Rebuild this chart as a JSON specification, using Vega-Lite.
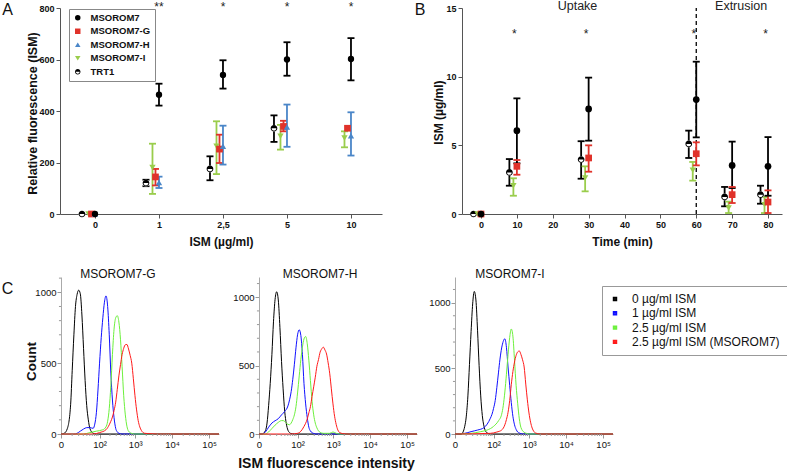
{
"$schema": "https://vega.github.io/schema/vega-lite/v6.json",
"width": 722, "height": 426,
"autosize": {"type": "none"},
"padding": {"left": 60, "top": 8, "right": 5, "bottom": 38},
"background": "white",
"config": {"view": {"stroke": null}, "font": "Liberation Sans",
  "axis": {"grid": false, "labelFont": "Liberation Sans", "titleFont": "Liberation Sans", "labelColor": "#111", "titleColor": "#111"},
  "legend": {"labelFont": "Liberation Sans"}, "text": {"font": "Liberation Sans"}},
"datasets": {
 "A": [
  {"dose":"0","series":"TRT1","mean":0,"lo":null,"hi":null},
  {"dose":"1","series":"TRT1","mean":120,"lo":108,"hi":133},
  {"dose":"2,5","series":"TRT1","mean":175,"lo":131,"hi":224},
  {"dose":"5","series":"TRT1","mean":333,"lo":280,"hi":383},
  {"dose":"0","series":"MSOROM7-I","mean":0,"lo":null,"hi":null},
  {"dose":"1","series":"MSOROM7-I","mean":181,"lo":78,"hi":273},
  {"dose":"2,5","series":"MSOROM7-I","mean":263,"lo":155,"hi":360},
  {"dose":"5","series":"MSOROM7-I","mean":302,"lo":250,"hi":346},
  {"dose":"10","series":"MSOROM7-I","mean":295,"lo":259,"hi":321},
  {"dose":"0","series":"MSOROM7-G","mean":0,"lo":null,"hi":null},
  {"dose":"1","series":"MSOROM7-G","mean":144,"lo":111,"hi":175},
  {"dose":"2,5","series":"MSOROM7-G","mean":252,"lo":198,"hi":308},
  {"dose":"5","series":"MSOROM7-G","mean":340,"lo":321,"hi":362},
  {"dose":"10","series":"MSOROM7-G","mean":333,"lo":null,"hi":null},
  {"dose":"0","series":"MSOROM7-H","mean":0,"lo":null,"hi":null},
  {"dose":"1","series":"MSOROM7-H","mean":122,"lo":101,"hi":145},
  {"dose":"2,5","series":"MSOROM7-H","mean":263,"lo":192,"hi":343},
  {"dose":"5","series":"MSOROM7-H","mean":338,"lo":261,"hi":425},
  {"dose":"10","series":"MSOROM7-H","mean":304,"lo":227,"hi":395},
  {"dose":"0","series":"MSOROM7","mean":0,"lo":null,"hi":null},
  {"dose":"1","series":"MSOROM7","mean":463,"lo":421,"hi":506},
  {"dose":"2,5","series":"MSOROM7","mean":540,"lo":487,"hi":597},
  {"dose":"5","series":"MSOROM7","mean":600,"lo":537,"hi":667},
  {"dose":"10","series":"MSOROM7","mean":602,"lo":519,"hi":683}
 ],
 "B": [
  {"t":0,"series":"TRT1","mean":0,"lo":null,"hi":null},
  {"t":10,"series":"TRT1","mean":3.03,"lo":2.06,"hi":4.0},
  {"t":30,"series":"TRT1","mean":3.96,"lo":2.57,"hi":5.3},
  {"t":60,"series":"TRT1","mean":5.1,"lo":4.08,"hi":6.07},
  {"t":70,"series":"TRT1","mean":1.24,"lo":0.56,"hi":1.97},
  {"t":80,"series":"TRT1","mean":1.41,"lo":0.75,"hi":2.06},
  {"t":0,"series":"MSOROM7-I","mean":0,"lo":null,"hi":null},
  {"t":10,"series":"MSOROM7-I","mean":2.05,"lo":1.33,"hi":2.6},
  {"t":30,"series":"MSOROM7-I","mean":2.62,"lo":1.65,"hi":3.47},
  {"t":60,"series":"MSOROM7-I","mean":3.18,"lo":2.43,"hi":3.79},
  {"t":70,"series":"MSOROM7-I","mean":0.44,"lo":0.07,"hi":0.9},
  {"t":80,"series":"MSOROM7-I","mean":0.68,"lo":0.07,"hi":1.24},
  {"t":0,"series":"MSOROM7-G","mean":0,"lo":null,"hi":null},
  {"t":10,"series":"MSOROM7-G","mean":3.47,"lo":2.86,"hi":3.93},
  {"t":30,"series":"MSOROM7-G","mean":4.08,"lo":3.08,"hi":5.0},
  {"t":60,"series":"MSOROM7-G","mean":4.39,"lo":3.54,"hi":5.22},
  {"t":70,"series":"MSOROM7-G","mean":1.41,"lo":0.8,"hi":1.97},
  {"t":80,"series":"MSOROM7-G","mean":0.87,"lo":0.07,"hi":1.72},
  {"t":0,"series":"MSOROM7","mean":0,"lo":null,"hi":null},
  {"t":10,"series":"MSOROM7","mean":6.07,"lo":3.69,"hi":8.42},
  {"t":30,"series":"MSOROM7","mean":7.65,"lo":5.34,"hi":9.93},
  {"t":60,"series":"MSOROM7","mean":8.33,"lo":5.58,"hi":11.09},
  {"t":70,"series":"MSOROM7","mean":3.54,"lo":1.89,"hi":5.27},
  {"t":80,"series":"MSOROM7","mean":3.47,"lo":1.33,"hi":5.6}
 ],
 "minorX": [{"v":10},{"v":20},{"v":30},{"v":40},{"v":50},{"v":60},{"v":70},{"v":80},{"v":90},{"v":200},{"v":300},{"v":400},{"v":500},{"v":600},{"v":700},{"v":800},{"v":900},{"v":2000},{"v":3000},{"v":4000},{"v":5000},{"v":6000},{"v":7000},{"v":8000},{"v":9000},{"v":20000},{"v":30000},{"v":40000},{"v":50000},{"v":60000},{"v":70000},{"v":80000},{"v":90000}],
 "minorY": [{"c":100},{"c":200},{"c":300},{"c":400},{"c":600},{"c":700},{"c":800},{"c":900},{"c":1100}],
 "CG": [
  {"s":"0 µg/ml ISM","i":0,"n":0},{"s":"0 µg/ml ISM","i":2.21,"n":5},{"s":"0 µg/ml ISM","i":4.92,"n":40},{"s":"0 µg/ml ISM","i":8.22,"n":210},{"s":"0 µg/ml ISM","i":10.1,"n":450},{"s":"0 µg/ml ISM","i":12.3,"n":700},{"s":"0 µg/ml ISM","i":14.6,"n":900},{"s":"0 µg/ml ISM","i":17.2,"n":985},{"s":"0 µg/ml ISM","i":20,"n":1015},{"s":"0 µg/ml ISM","i":23.2,"n":990},{"s":"0 µg/ml ISM","i":26.7,"n":840},{"s":"0 µg/ml ISM","i":30.6,"n":605},{"s":"0 µg/ml ISM","i":34.8,"n":377},{"s":"0 µg/ml ISM","i":39.5,"n":200},{"s":"0 µg/ml ISM","i":44.7,"n":100},{"s":"0 µg/ml ISM","i":50.5,"n":38},{"s":"0 µg/ml ISM","i":63.9,"n":5},{"s":"0 µg/ml ISM","i":80.3,"n":0},{"s":"0 µg/ml ISM","i":185000,"n":0},
  {"s":"1 µg/ml ISM","i":0,"n":0},{"s":"1 µg/ml ISM","i":12.3,"n":0},{"s":"1 µg/ml ISM","i":17.2,"n":5},{"s":"1 µg/ml ISM","i":23.2,"n":20},{"s":"1 µg/ml ISM","i":30.6,"n":35},{"s":"1 µg/ml ISM","i":39.5,"n":45},{"s":"1 µg/ml ISM","i":50.5,"n":45},{"s":"1 µg/ml ISM","i":63.9,"n":40},{"s":"1 µg/ml ISM","i":71.7,"n":70},{"s":"1 µg/ml ISM","i":80.3,"n":150},{"s":"1 µg/ml ISM","i":89.7,"n":310},{"s":"1 µg/ml ISM","i":100,"n":500},{"s":"1 µg/ml ISM","i":112,"n":680},{"s":"1 µg/ml ISM","i":125,"n":820},{"s":"1 µg/ml ISM","i":139,"n":930},{"s":"1 µg/ml ISM","i":154,"n":975},{"s":"1 µg/ml ISM","i":172,"n":900},{"s":"1 µg/ml ISM","i":191,"n":700},{"s":"1 µg/ml ISM","i":212,"n":430},{"s":"1 µg/ml ISM","i":235,"n":240},{"s":"1 µg/ml ISM","i":261,"n":115},{"s":"1 µg/ml ISM","i":290,"n":40},{"s":"1 µg/ml ISM","i":321,"n":15},{"s":"1 µg/ml ISM","i":356,"n":5},{"s":"1 µg/ml ISM","i":437,"n":0},{"s":"1 µg/ml ISM","i":185000,"n":0},
  {"s":"2.5 µg/ml ISM","i":0,"n":0},{"s":"2.5 µg/ml ISM","i":30.6,"n":0},{"s":"2.5 µg/ml ISM","i":50.5,"n":10},{"s":"2.5 µg/ml ISM","i":80.3,"n":20},{"s":"2.5 µg/ml ISM","i":125,"n":30},{"s":"2.5 µg/ml ISM","i":154,"n":50},{"s":"2.5 µg/ml ISM","i":172,"n":90},{"s":"2.5 µg/ml ISM","i":191,"n":180},{"s":"2.5 µg/ml ISM","i":212,"n":340},{"s":"2.5 µg/ml ISM","i":235,"n":560},{"s":"2.5 µg/ml ISM","i":261,"n":740},{"s":"2.5 µg/ml ISM","i":290,"n":820},{"s":"2.5 µg/ml ISM","i":321,"n":835},{"s":"2.5 µg/ml ISM","i":356,"n":790},{"s":"2.5 µg/ml ISM","i":395,"n":665},{"s":"2.5 µg/ml ISM","i":437,"n":475},{"s":"2.5 µg/ml ISM","i":484,"n":270},{"s":"2.5 µg/ml ISM","i":536,"n":135},{"s":"2.5 µg/ml ISM","i":593,"n":55},{"s":"2.5 µg/ml ISM","i":657,"n":20},{"s":"2.5 µg/ml ISM","i":805,"n":4},{"s":"2.5 µg/ml ISM","i":985,"n":0},{"s":"2.5 µg/ml ISM","i":185000,"n":0},
  {"s":"2.5 µg/ml ISM (MSOROM7)","i":0,"n":0},{"s":"2.5 µg/ml ISM (MSOROM7)","i":63.9,"n":0},{"s":"2.5 µg/ml ISM (MSOROM7)","i":100,"n":10},{"s":"2.5 µg/ml ISM (MSOROM7)","i":154,"n":30},{"s":"2.5 µg/ml ISM (MSOROM7)","i":191,"n":65},{"s":"2.5 µg/ml ISM (MSOROM7)","i":212,"n":90},{"s":"2.5 µg/ml ISM (MSOROM7)","i":235,"n":120},{"s":"2.5 µg/ml ISM (MSOROM7)","i":261,"n":165},{"s":"2.5 µg/ml ISM (MSOROM7)","i":290,"n":225},{"s":"2.5 µg/ml ISM (MSOROM7)","i":321,"n":315},{"s":"2.5 µg/ml ISM (MSOROM7)","i":356,"n":410},{"s":"2.5 µg/ml ISM (MSOROM7)","i":395,"n":490},{"s":"2.5 µg/ml ISM (MSOROM7)","i":437,"n":560},{"s":"2.5 µg/ml ISM (MSOROM7)","i":484,"n":605},{"s":"2.5 µg/ml ISM (MSOROM7)","i":536,"n":630},{"s":"2.5 µg/ml ISM (MSOROM7)","i":593,"n":632},{"s":"2.5 µg/ml ISM (MSOROM7)","i":657,"n":600},{"s":"2.5 µg/ml ISM (MSOROM7)","i":727,"n":555},{"s":"2.5 µg/ml ISM (MSOROM7)","i":805,"n":500},{"s":"2.5 µg/ml ISM (MSOROM7)","i":890,"n":390},{"s":"2.5 µg/ml ISM (MSOROM7)","i":985,"n":270},{"s":"2.5 µg/ml ISM (MSOROM7)","i":1090,"n":170},{"s":"2.5 µg/ml ISM (MSOROM7)","i":1205,"n":95},{"s":"2.5 µg/ml ISM (MSOROM7)","i":1333,"n":50},{"s":"2.5 µg/ml ISM (MSOROM7)","i":1474,"n":25},{"s":"2.5 µg/ml ISM (MSOROM7)","i":1803,"n":5},{"s":"2.5 µg/ml ISM (MSOROM7)","i":2694,"n":2},{"s":"2.5 µg/ml ISM (MSOROM7)","i":4024,"n":0},{"s":"2.5 µg/ml ISM (MSOROM7)","i":185000,"n":0}
 ],
 "CH": [
  {"s":"0 µg/ml ISM","i":0,"n":0},{"s":"0 µg/ml ISM","i":2.21,"n":0},{"s":"0 µg/ml ISM","i":4.92,"n":25},{"s":"0 µg/ml ISM","i":6.49,"n":80},{"s":"0 µg/ml ISM","i":8.22,"n":210},{"s":"0 µg/ml ISM","i":10.1,"n":370},{"s":"0 µg/ml ISM","i":12.3,"n":580},{"s":"0 µg/ml ISM","i":14.6,"n":820},{"s":"0 µg/ml ISM","i":17.2,"n":985},{"s":"0 µg/ml ISM","i":20,"n":1040},{"s":"0 µg/ml ISM","i":23.2,"n":980},{"s":"0 µg/ml ISM","i":26.7,"n":780},{"s":"0 µg/ml ISM","i":30.6,"n":530},{"s":"0 µg/ml ISM","i":34.8,"n":330},{"s":"0 µg/ml ISM","i":39.5,"n":165},{"s":"0 µg/ml ISM","i":44.7,"n":75},{"s":"0 µg/ml ISM","i":50.5,"n":28},{"s":"0 µg/ml ISM","i":56.9,"n":10},{"s":"0 µg/ml ISM","i":63.9,"n":3},{"s":"0 µg/ml ISM","i":80.3,"n":0},{"s":"0 µg/ml ISM","i":185000,"n":0},
  {"s":"1 µg/ml ISM","i":0,"n":0},{"s":"1 µg/ml ISM","i":2.21,"n":0},{"s":"1 µg/ml ISM","i":4.92,"n":15},{"s":"1 µg/ml ISM","i":8.22,"n":50},{"s":"1 µg/ml ISM","i":12.3,"n":80},{"s":"1 µg/ml ISM","i":17.2,"n":97},{"s":"1 µg/ml ISM","i":23.2,"n":112},{"s":"1 µg/ml ISM","i":30.6,"n":140},{"s":"1 µg/ml ISM","i":39.5,"n":165},{"s":"1 µg/ml ISM","i":50.5,"n":205},{"s":"1 µg/ml ISM","i":56.9,"n":250},{"s":"1 µg/ml ISM","i":63.9,"n":310},{"s":"1 µg/ml ISM","i":71.7,"n":400},{"s":"1 µg/ml ISM","i":80.3,"n":510},{"s":"1 µg/ml ISM","i":89.7,"n":630},{"s":"1 µg/ml ISM","i":100,"n":725},{"s":"1 µg/ml ISM","i":112,"n":762},{"s":"1 µg/ml ISM","i":125,"n":720},{"s":"1 µg/ml ISM","i":139,"n":580},{"s":"1 µg/ml ISM","i":154,"n":370},{"s":"1 µg/ml ISM","i":172,"n":220},{"s":"1 µg/ml ISM","i":191,"n":120},{"s":"1 µg/ml ISM","i":212,"n":50},{"s":"1 µg/ml ISM","i":235,"n":22},{"s":"1 µg/ml ISM","i":261,"n":10},{"s":"1 µg/ml ISM","i":290,"n":4},{"s":"1 µg/ml ISM","i":356,"n":0},{"s":"1 µg/ml ISM","i":185000,"n":0},
  {"s":"2.5 µg/ml ISM","i":0,"n":0},{"s":"2.5 µg/ml ISM","i":4.92,"n":0},{"s":"2.5 µg/ml ISM","i":8.22,"n":15},{"s":"2.5 µg/ml ISM","i":12.3,"n":40},{"s":"2.5 µg/ml ISM","i":17.2,"n":65},{"s":"2.5 µg/ml ISM","i":23.2,"n":85},{"s":"2.5 µg/ml ISM","i":30.6,"n":98},{"s":"2.5 µg/ml ISM","i":34.8,"n":98},{"s":"2.5 µg/ml ISM","i":39.5,"n":92},{"s":"2.5 µg/ml ISM","i":44.7,"n":80},{"s":"2.5 µg/ml ISM","i":50.5,"n":70},{"s":"2.5 µg/ml ISM","i":56.9,"n":68},{"s":"2.5 µg/ml ISM","i":63.9,"n":80},{"s":"2.5 µg/ml ISM","i":71.7,"n":105},{"s":"2.5 µg/ml ISM","i":80.3,"n":140},{"s":"2.5 µg/ml ISM","i":89.7,"n":200},{"s":"2.5 µg/ml ISM","i":100,"n":300},{"s":"2.5 µg/ml ISM","i":112,"n":425},{"s":"2.5 µg/ml ISM","i":125,"n":545},{"s":"2.5 µg/ml ISM","i":139,"n":635},{"s":"2.5 µg/ml ISM","i":154,"n":695},{"s":"2.5 µg/ml ISM","i":172,"n":713},{"s":"2.5 µg/ml ISM","i":191,"n":660},{"s":"2.5 µg/ml ISM","i":212,"n":540},{"s":"2.5 µg/ml ISM","i":235,"n":390},{"s":"2.5 µg/ml ISM","i":261,"n":240},{"s":"2.5 µg/ml ISM","i":290,"n":140},{"s":"2.5 µg/ml ISM","i":321,"n":80},{"s":"2.5 µg/ml ISM","i":356,"n":45},{"s":"2.5 µg/ml ISM","i":437,"n":12},{"s":"2.5 µg/ml ISM","i":536,"n":5},{"s":"2.5 µg/ml ISM","i":805,"n":5},{"s":"2.5 µg/ml ISM","i":985,"n":15},{"s":"2.5 µg/ml ISM","i":1205,"n":5},{"s":"2.5 µg/ml ISM","i":1474,"n":0},{"s":"2.5 µg/ml ISM","i":185000,"n":0},
  {"s":"2.5 µg/ml ISM (MSOROM7)","i":0,"n":0},{"s":"2.5 µg/ml ISM (MSOROM7)","i":63.9,"n":0},{"s":"2.5 µg/ml ISM (MSOROM7)","i":100,"n":5},{"s":"2.5 µg/ml ISM (MSOROM7)","i":125,"n":20},{"s":"2.5 µg/ml ISM (MSOROM7)","i":154,"n":55},{"s":"2.5 µg/ml ISM (MSOROM7)","i":191,"n":110},{"s":"2.5 µg/ml ISM (MSOROM7)","i":212,"n":155},{"s":"2.5 µg/ml ISM (MSOROM7)","i":235,"n":200},{"s":"2.5 µg/ml ISM (MSOROM7)","i":261,"n":275},{"s":"2.5 µg/ml ISM (MSOROM7)","i":290,"n":345},{"s":"2.5 µg/ml ISM (MSOROM7)","i":321,"n":415},{"s":"2.5 µg/ml ISM (MSOROM7)","i":356,"n":495},{"s":"2.5 µg/ml ISM (MSOROM7)","i":395,"n":545},{"s":"2.5 µg/ml ISM (MSOROM7)","i":437,"n":598},{"s":"2.5 µg/ml ISM (MSOROM7)","i":484,"n":622},{"s":"2.5 µg/ml ISM (MSOROM7)","i":536,"n":635},{"s":"2.5 µg/ml ISM (MSOROM7)","i":593,"n":615},{"s":"2.5 µg/ml ISM (MSOROM7)","i":657,"n":585},{"s":"2.5 µg/ml ISM (MSOROM7)","i":727,"n":520},{"s":"2.5 µg/ml ISM (MSOROM7)","i":805,"n":440},{"s":"2.5 µg/ml ISM (MSOROM7)","i":890,"n":330},{"s":"2.5 µg/ml ISM (MSOROM7)","i":985,"n":220},{"s":"2.5 µg/ml ISM (MSOROM7)","i":1090,"n":130},{"s":"2.5 µg/ml ISM (MSOROM7)","i":1205,"n":70},{"s":"2.5 µg/ml ISM (MSOROM7)","i":1333,"n":30},{"s":"2.5 µg/ml ISM (MSOROM7)","i":1474,"n":12},{"s":"2.5 µg/ml ISM (MSOROM7)","i":1803,"n":3},{"s":"2.5 µg/ml ISM (MSOROM7)","i":2694,"n":0},{"s":"2.5 µg/ml ISM (MSOROM7)","i":185000,"n":0}
 ],
 "CI": [
  {"s":"0 µg/ml ISM","i":0,"n":0},{"s":"0 µg/ml ISM","i":4.92,"n":0},{"s":"0 µg/ml ISM","i":6.49,"n":15},{"s":"0 µg/ml ISM","i":8.22,"n":55},{"s":"0 µg/ml ISM","i":10.1,"n":130},{"s":"0 µg/ml ISM","i":12.3,"n":290},{"s":"0 µg/ml ISM","i":14.6,"n":530},{"s":"0 µg/ml ISM","i":17.2,"n":780},{"s":"0 µg/ml ISM","i":20,"n":990},{"s":"0 µg/ml ISM","i":23.2,"n":1085},{"s":"0 µg/ml ISM","i":26.7,"n":1020},{"s":"0 µg/ml ISM","i":30.6,"n":790},{"s":"0 µg/ml ISM","i":34.8,"n":520},{"s":"0 µg/ml ISM","i":39.5,"n":290},{"s":"0 µg/ml ISM","i":44.7,"n":140},{"s":"0 µg/ml ISM","i":50.5,"n":60},{"s":"0 µg/ml ISM","i":56.9,"n":22},{"s":"0 µg/ml ISM","i":63.9,"n":8},{"s":"0 µg/ml ISM","i":80.3,"n":0},{"s":"0 µg/ml ISM","i":185000,"n":0},
  {"s":"1 µg/ml ISM","i":0,"n":0},{"s":"1 µg/ml ISM","i":8.22,"n":5},{"s":"1 µg/ml ISM","i":17.2,"n":18},{"s":"1 µg/ml ISM","i":30.6,"n":30},{"s":"1 µg/ml ISM","i":50.5,"n":48},{"s":"1 µg/ml ISM","i":63.9,"n":75},{"s":"1 µg/ml ISM","i":80.3,"n":120},{"s":"1 µg/ml ISM","i":89.7,"n":150},{"s":"1 µg/ml ISM","i":100,"n":195},{"s":"1 µg/ml ISM","i":112,"n":255},{"s":"1 µg/ml ISM","i":125,"n":355},{"s":"1 µg/ml ISM","i":139,"n":465},{"s":"1 µg/ml ISM","i":154,"n":570},{"s":"1 µg/ml ISM","i":172,"n":655},{"s":"1 µg/ml ISM","i":191,"n":705},{"s":"1 µg/ml ISM","i":212,"n":725},{"s":"1 µg/ml ISM","i":235,"n":660},{"s":"1 µg/ml ISM","i":261,"n":510},{"s":"1 µg/ml ISM","i":290,"n":370},{"s":"1 µg/ml ISM","i":321,"n":240},{"s":"1 µg/ml ISM","i":356,"n":135},{"s":"1 µg/ml ISM","i":395,"n":70},{"s":"1 µg/ml ISM","i":437,"n":35},{"s":"1 µg/ml ISM","i":484,"n":15},{"s":"1 µg/ml ISM","i":536,"n":8},{"s":"1 µg/ml ISM","i":657,"n":0},{"s":"1 µg/ml ISM","i":185000,"n":0},
  {"s":"2.5 µg/ml ISM","i":0,"n":0},{"s":"2.5 µg/ml ISM","i":17.2,"n":5},{"s":"2.5 µg/ml ISM","i":39.5,"n":18},{"s":"2.5 µg/ml ISM","i":63.9,"n":30},{"s":"2.5 µg/ml ISM","i":100,"n":58},{"s":"2.5 µg/ml ISM","i":139,"n":100},{"s":"2.5 µg/ml ISM","i":172,"n":150},{"s":"2.5 µg/ml ISM","i":191,"n":215},{"s":"2.5 µg/ml ISM","i":212,"n":320},{"s":"2.5 µg/ml ISM","i":235,"n":455},{"s":"2.5 µg/ml ISM","i":261,"n":605},{"s":"2.5 µg/ml ISM","i":290,"n":735},{"s":"2.5 µg/ml ISM","i":321,"n":799},{"s":"2.5 µg/ml ISM","i":356,"n":745},{"s":"2.5 µg/ml ISM","i":395,"n":560},{"s":"2.5 µg/ml ISM","i":437,"n":370},{"s":"2.5 µg/ml ISM","i":484,"n":230},{"s":"2.5 µg/ml ISM","i":536,"n":115},{"s":"2.5 µg/ml ISM","i":593,"n":50},{"s":"2.5 µg/ml ISM","i":727,"n":13},{"s":"2.5 µg/ml ISM","i":890,"n":3},{"s":"2.5 µg/ml ISM","i":985,"n":0},{"s":"2.5 µg/ml ISM","i":185000,"n":0},
  {"s":"2.5 µg/ml ISM (MSOROM7)","i":0,"n":0},{"s":"2.5 µg/ml ISM (MSOROM7)","i":80.3,"n":5},{"s":"2.5 µg/ml ISM (MSOROM7)","i":125,"n":15},{"s":"2.5 µg/ml ISM (MSOROM7)","i":172,"n":30},{"s":"2.5 µg/ml ISM (MSOROM7)","i":212,"n":70},{"s":"2.5 µg/ml ISM (MSOROM7)","i":235,"n":110},{"s":"2.5 µg/ml ISM (MSOROM7)","i":261,"n":165},{"s":"2.5 µg/ml ISM (MSOROM7)","i":290,"n":255},{"s":"2.5 µg/ml ISM (MSOROM7)","i":321,"n":375},{"s":"2.5 µg/ml ISM (MSOROM7)","i":356,"n":475},{"s":"2.5 µg/ml ISM (MSOROM7)","i":395,"n":548},{"s":"2.5 µg/ml ISM (MSOROM7)","i":437,"n":598},{"s":"2.5 µg/ml ISM (MSOROM7)","i":484,"n":625},{"s":"2.5 µg/ml ISM (MSOROM7)","i":536,"n":632},{"s":"2.5 µg/ml ISM (MSOROM7)","i":593,"n":606},{"s":"2.5 µg/ml ISM (MSOROM7)","i":657,"n":565},{"s":"2.5 µg/ml ISM (MSOROM7)","i":727,"n":510},{"s":"2.5 µg/ml ISM (MSOROM7)","i":805,"n":380},{"s":"2.5 µg/ml ISM (MSOROM7)","i":890,"n":260},{"s":"2.5 µg/ml ISM (MSOROM7)","i":985,"n":160},{"s":"2.5 µg/ml ISM (MSOROM7)","i":1090,"n":90},{"s":"2.5 µg/ml ISM (MSOROM7)","i":1205,"n":45},{"s":"2.5 µg/ml ISM (MSOROM7)","i":1333,"n":20},{"s":"2.5 µg/ml ISM (MSOROM7)","i":1474,"n":8},{"s":"2.5 µg/ml ISM (MSOROM7)","i":1993,"n":0},{"s":"2.5 µg/ml ISM (MSOROM7)","i":185000,"n":0}
 ]
},
"resolve": {"scale": {"x": "independent", "y": "independent", "color": "independent", "shape": "independent"}},
"layer": [
 {
  "data": {"name": "A"},
  "encoding": {"x": {"field": "dose", "type": "ordinal", "scale": {"type": "point", "domain": ["0","1","2,5","5","10"], "range": [0, 322], "padding": 0.5156, "align": 0.53},
    "axis": {"orient": "bottom", "offset": -220, "title": "ISM (µg/ml)", "labelAngle": 0, "labelFontWeight": "bold", "labelFontSize": 9, "titleFontSize": 12, "titleFontWeight": "bold", "domainColor": "#555", "tickColor": "#555", "tickSize": 4, "labelPadding": 2, "titleY": 27, "titleBaseline": "middle"}}},
  "layer": [
   {"transform": [{"filter": "datum.series === 'TRT1'"}], "mark": {"type": "rule", "strokeWidth": 1.8, "xOffset": -13},
    "encoding": {"y": {"field": "lo", "type": "quantitative", "scale": {"domain": [0, 800], "range": [206, 0], "nice": false, "zero": false},
       "axis": {"orient": "left", "values": [0,200,400,600,800], "title": "Relative fluorescence (ISM)", "labelFontWeight": "bold", "labelFontSize": 9, "titleFontSize": 12.5, "titleFontWeight": "bold", "domainColor": "#555", "tickColor": "#555", "tickSize": 4, "labelPadding": 2, "titleX": -28, "titleY": 105, "titleBaseline": "middle"}},
     "y2": {"field": "hi"},
     "color": {"field": "series", "type": "nominal", "scale": {"domain": ["MSOROM7","MSOROM7-G","MSOROM7-H","MSOROM7-I","TRT1"], "range": ["#000000","#e0322a","#4a86c8","#9acd4c","#000000"]}}}},
   {"transform": [{"filter": "datum.series === 'TRT1'"}], "mark": {"type": "tick", "orient": "horizontal", "thickness": 1.8, "size": 7, "opacity": 1, "xOffset": -13},
    "encoding": {"y": {"field": "lo", "type": "quantitative"}, "color": {"field": "series", "type": "nominal"}}},
   {"transform": [{"filter": "datum.series === 'TRT1'"}], "mark": {"type": "tick", "orient": "horizontal", "thickness": 1.8, "size": 7, "opacity": 1, "xOffset": -13},
    "encoding": {"y": {"field": "hi", "type": "quantitative"}, "color": {"field": "series", "type": "nominal"}}},
   {"transform": [{"filter": "datum.series === 'MSOROM7-I'"}], "mark": {"type": "rule", "strokeWidth": 1.8, "xOffset": -6.5},
    "encoding": {"y": {"field": "lo", "type": "quantitative"}, "y2": {"field": "hi"}, "color": {"field": "series", "type": "nominal"}}},
   {"transform": [{"filter": "datum.series === 'MSOROM7-I'"}], "mark": {"type": "tick", "orient": "horizontal", "thickness": 1.8, "size": 7, "opacity": 1, "xOffset": -6.5},
    "encoding": {"y": {"field": "lo", "type": "quantitative"}, "color": {"field": "series", "type": "nominal"}}},
   {"transform": [{"filter": "datum.series === 'MSOROM7-I'"}], "mark": {"type": "tick", "orient": "horizontal", "thickness": 1.8, "size": 7, "opacity": 1, "xOffset": -6.5},
    "encoding": {"y": {"field": "hi", "type": "quantitative"}, "color": {"field": "series", "type": "nominal"}}},
   {"transform": [{"filter": "datum.series === 'MSOROM7-G'"}], "mark": {"type": "rule", "strokeWidth": 1.8, "xOffset": -3.5},
    "encoding": {"y": {"field": "lo", "type": "quantitative"}, "y2": {"field": "hi"}, "color": {"field": "series", "type": "nominal"}}},
   {"transform": [{"filter": "datum.series === 'MSOROM7-G'"}], "mark": {"type": "tick", "orient": "horizontal", "thickness": 1.8, "size": 7, "opacity": 1, "xOffset": -3.5},
    "encoding": {"y": {"field": "lo", "type": "quantitative"}, "color": {"field": "series", "type": "nominal"}}},
   {"transform": [{"filter": "datum.series === 'MSOROM7-G'"}], "mark": {"type": "tick", "orient": "horizontal", "thickness": 1.8, "size": 7, "opacity": 1, "xOffset": -3.5},
    "encoding": {"y": {"field": "hi", "type": "quantitative"}, "color": {"field": "series", "type": "nominal"}}},
   {"transform": [{"filter": "datum.series === 'MSOROM7-H' || datum.series === 'MSOROM7'"}], "mark": {"type": "rule", "strokeWidth": 1.8},
    "encoding": {"y": {"field": "lo", "type": "quantitative"}, "y2": {"field": "hi"}, "color": {"field": "series", "type": "nominal"}}},
   {"transform": [{"filter": "datum.series === 'MSOROM7-H' || datum.series === 'MSOROM7'"}], "mark": {"type": "tick", "orient": "horizontal", "thickness": 1.8, "size": 7, "opacity": 1},
    "encoding": {"y": {"field": "lo", "type": "quantitative"}, "color": {"field": "series", "type": "nominal"}}},
   {"transform": [{"filter": "datum.series === 'MSOROM7-H' || datum.series === 'MSOROM7'"}], "mark": {"type": "tick", "orient": "horizontal", "thickness": 1.8, "size": 7, "opacity": 1},
    "encoding": {"y": {"field": "hi", "type": "quantitative"}, "color": {"field": "series", "type": "nominal"}}},
   {"transform": [{"filter": "datum.series === 'TRT1'"}], "mark": {"type": "point", "filled": true, "shape": "circle", "size": 45, "opacity": 1, "color": "white", "xOffset": -13},
    "encoding": {"y": {"field": "mean", "type": "quantitative"}}},
   {"transform": [{"filter": "datum.series === 'TRT1'"}], "mark": {"type": "point", "filled": true, "size": 45, "opacity": 1, "xOffset": -13},
    "encoding": {"y": {"field": "mean", "type": "quantitative"},
     "color": {"field": "series", "type": "nominal", "legend": {"title": null, "orient": "none", "legendX": 9, "legendY": 1, "strokeColor": "#888", "padding": 4, "rowPadding": 2.5, "labelFontWeight": "bold", "labelFontSize": 9.5, "labelColor": "#111", "symbolSize": 30, "symbolType": "circle", "labelOffset": 8, "symbolStrokeWidth": 0}},
     "shape": {"field": "series", "type": "nominal", "scale": {"domain": ["MSOROM7","MSOROM7-G","MSOROM7-H","MSOROM7-I","TRT1"], "range": ["circle","square","triangle-up","triangle-down","M-1,0A1,1,0,0,1,1,0Z M1,0A1,1,0,0,1,-1,0L-0.7,0A0.7,0.7,0,0,0,0.7,0Z"]}, "legend": {"title": null, "orient": "none", "legendX": 9, "legendY": 1, "strokeColor": "#888", "padding": 4, "rowPadding": 2.5, "labelFontWeight": "bold", "labelFontSize": 9.5, "labelColor": "#111", "symbolSize": 30, "labelOffset": 8, "symbolStrokeWidth": 0}}}},
   {"transform": [{"filter": "datum.series === 'MSOROM7-I'"}], "mark": {"type": "point", "filled": true, "size": 40, "opacity": 1, "xOffset": -6.5},
    "encoding": {"y": {"field": "mean", "type": "quantitative"}, "color": {"field": "series", "type": "nominal"}, "shape": {"field": "series", "type": "nominal"}}},
   {"transform": [{"filter": "datum.series === 'MSOROM7-G'"}], "mark": {"type": "point", "filled": true, "size": 45, "opacity": 1, "xOffset": -3.5},
    "encoding": {"y": {"field": "mean", "type": "quantitative"}, "color": {"field": "series", "type": "nominal"}, "shape": {"field": "series", "type": "nominal"}}},
   {"transform": [{"filter": "datum.series === 'MSOROM7-H' || datum.series === 'MSOROM7'"}], "mark": {"type": "point", "filled": true, "size": 40, "opacity": 1},
    "encoding": {"y": {"field": "mean", "type": "quantitative"}, "color": {"field": "series", "type": "nominal"}, "shape": {"field": "series", "type": "nominal"}}},
   {"data": {"values": [{"dose": "1", "sig": "**"}, {"dose": "2,5", "sig": "*"}, {"dose": "5", "sig": "*"}, {"dose": "10", "sig": "*"}]},
    "mark": {"type": "text", "fontSize": 12, "baseline": "alphabetic", "color": "#222"},
    "encoding": {"y": {"datum": 789, "type": "quantitative"}, "text": {"field": "sig"}}}
  ]
 },
 {
  "data": {"name": "B"},
  "layer": [
   {"transform": [{"filter": "datum.series === 'TRT1'"}], "mark": {"type": "rule", "strokeWidth": 1.8, "xOffset": -7.5},
    "encoding": {
     "x": {"field": "t", "type": "quantitative", "scale": {"domain": [-5.3, 83.9], "range": [402, 722], "nice": false, "zero": false},
       "axis": {"orient": "bottom", "offset": -220, "values": [0,10,20,30,40,50,60,70,80], "title": "Time (min)", "labelFontWeight": "bold", "labelFontSize": 9, "titleFontSize": 12, "titleFontWeight": "bold", "domainColor": "#555", "tickColor": "#555", "tickSize": 4, "labelPadding": 2, "titleY": 27, "titleBaseline": "middle"}},
     "y": {"field": "lo", "type": "quantitative", "scale": {"domain": [0, 15], "range": [206, 0], "nice": false, "zero": false},
       "axis": {"orient": "left", "offset": -402, "values": [0,5,10,15], "title": "ISM (µg/ml)", "labelFontWeight": "bold", "labelFontSize": 9, "titleFontSize": 12, "titleFontWeight": "bold", "domainColor": "#555", "tickColor": "#555", "tickSize": 4, "labelPadding": 2, "titleX": -24, "titleY": 104, "titleBaseline": "middle"}},
     "y2": {"field": "hi"},
     "color": {"field": "series", "type": "nominal", "scale": {"domain": ["MSOROM7","MSOROM7-G","MSOROM7-I","TRT1"], "range": ["#000000","#e0322a","#9acd4c","#000000"]}, "legend": null}}},
   {"data": {"values": [{}]}, "mark": {"type": "rule", "strokeDash": [4, 3], "strokeWidth": 1.3, "color": "#000"},
    "encoding": {"x": {"datum": 60, "type": "quantitative"}, "y": {"datum": 0, "type": "quantitative"}, "y2": {"datum": 15}}},
   {"transform": [{"filter": "datum.series === 'TRT1'"}], "mark": {"type": "tick", "orient": "horizontal", "thickness": 1.8, "size": 7, "opacity": 1, "xOffset": -7.5},
    "encoding": {"x": {"field": "t", "type": "quantitative"}, "y": {"field": "lo", "type": "quantitative"}, "color": {"field": "series", "type": "nominal", "legend": null}}},
   {"transform": [{"filter": "datum.series === 'TRT1'"}], "mark": {"type": "tick", "orient": "horizontal", "thickness": 1.8, "size": 7, "opacity": 1, "xOffset": -7.5},
    "encoding": {"x": {"field": "t", "type": "quantitative"}, "y": {"field": "hi", "type": "quantitative"}, "color": {"field": "series", "type": "nominal", "legend": null}}},
   {"transform": [{"filter": "datum.series === 'MSOROM7-I'"}], "mark": {"type": "rule", "strokeWidth": 1.8, "xOffset": -3.5},
    "encoding": {"x": {"field": "t", "type": "quantitative"}, "y": {"field": "lo", "type": "quantitative"}, "y2": {"field": "hi"}, "color": {"field": "series", "type": "nominal", "legend": null}}},
   {"transform": [{"filter": "datum.series === 'MSOROM7-I'"}], "mark": {"type": "tick", "orient": "horizontal", "thickness": 1.8, "size": 7, "opacity": 1, "xOffset": -3.5},
    "encoding": {"x": {"field": "t", "type": "quantitative"}, "y": {"field": "lo", "type": "quantitative"}, "color": {"field": "series", "type": "nominal", "legend": null}}},
   {"transform": [{"filter": "datum.series === 'MSOROM7-I'"}], "mark": {"type": "tick", "orient": "horizontal", "thickness": 1.8, "size": 7, "opacity": 1, "xOffset": -3.5},
    "encoding": {"x": {"field": "t", "type": "quantitative"}, "y": {"field": "hi", "type": "quantitative"}, "color": {"field": "series", "type": "nominal", "legend": null}}},
   {"transform": [{"filter": "datum.series === 'MSOROM7-G' || datum.series === 'MSOROM7'"}], "mark": {"type": "rule", "strokeWidth": 1.8},
    "encoding": {"x": {"field": "t", "type": "quantitative"}, "y": {"field": "lo", "type": "quantitative"}, "y2": {"field": "hi"}, "color": {"field": "series", "type": "nominal", "legend": null}}},
   {"transform": [{"filter": "datum.series === 'MSOROM7-G' || datum.series === 'MSOROM7'"}], "mark": {"type": "tick", "orient": "horizontal", "thickness": 1.8, "size": 7, "opacity": 1},
    "encoding": {"x": {"field": "t", "type": "quantitative"}, "y": {"field": "lo", "type": "quantitative"}, "color": {"field": "series", "type": "nominal", "legend": null}}},
   {"transform": [{"filter": "datum.series === 'MSOROM7-G' || datum.series === 'MSOROM7'"}], "mark": {"type": "tick", "orient": "horizontal", "thickness": 1.8, "size": 7, "opacity": 1},
    "encoding": {"x": {"field": "t", "type": "quantitative"}, "y": {"field": "hi", "type": "quantitative"}, "color": {"field": "series", "type": "nominal", "legend": null}}},
   {"transform": [{"filter": "datum.series === 'TRT1'"}], "mark": {"type": "point", "filled": true, "shape": "circle", "size": 45, "opacity": 1, "color": "white", "xOffset": -7.5},
    "encoding": {"x": {"field": "t", "type": "quantitative"}, "y": {"field": "mean", "type": "quantitative"}}},
   {"transform": [{"filter": "datum.series === 'TRT1'"}], "mark": {"type": "point", "filled": true, "size": 45, "opacity": 1, "xOffset": -7.5},
    "encoding": {"x": {"field": "t", "type": "quantitative"}, "y": {"field": "mean", "type": "quantitative"}, "color": {"field": "series", "type": "nominal", "legend": null},
     "shape": {"field": "series", "type": "nominal", "scale": {"domain": ["MSOROM7","MSOROM7-G","MSOROM7-I","TRT1"], "range": ["circle","square","triangle-down","M-1,0A1,1,0,0,1,1,0Z M1,0A1,1,0,0,1,-1,0L-0.7,0A0.7,0.7,0,0,0,0.7,0Z"]}, "legend": null}}},
   {"transform": [{"filter": "datum.series === 'MSOROM7-I'"}], "mark": {"type": "point", "filled": true, "size": 40, "opacity": 1, "xOffset": -3.5},
    "encoding": {"x": {"field": "t", "type": "quantitative"}, "y": {"field": "mean", "type": "quantitative"}, "color": {"field": "series", "type": "nominal", "legend": null}, "shape": {"field": "series", "type": "nominal", "legend": null}}},
   {"transform": [{"filter": "datum.series === 'MSOROM7-G' || datum.series === 'MSOROM7'"}], "mark": {"type": "point", "filled": true, "size": 45, "opacity": 1},
    "encoding": {"x": {"field": "t", "type": "quantitative"}, "y": {"field": "mean", "type": "quantitative"}, "color": {"field": "series", "type": "nominal", "legend": null}, "shape": {"field": "series", "type": "nominal", "legend": null}}},
   {"data": {"values": [{"t": 10}, {"t": 30}, {"t": 60}, {"t": 80}]}, "mark": {"type": "text", "text": "*", "fontSize": 12, "dx": -2.5, "baseline": "alphabetic", "color": "#222"},
    "encoding": {"x": {"field": "t", "type": "quantitative"}, "y": {"datum": 12.83, "type": "quantitative"}}},
   {"data": {"values": [{}]}, "mark": {"type": "text", "text": "Uptake", "fontSize": 12.5, "baseline": "middle", "color": "#222"},
    "encoding": {"x": {"datum": 26.9, "type": "quantitative"}, "y": {"datum": 15.15, "type": "quantitative"}}},
   {"data": {"values": [{}]}, "mark": {"type": "text", "text": "Extrusion", "fontSize": 12.5, "baseline": "middle", "color": "#222"},
    "encoding": {"x": {"datum": 72.5, "type": "quantitative"}, "y": {"datum": 15.15, "type": "quantitative"}}},
   {"data": {"values": [{}]}, "mark": {"type": "text", "text": "A", "fontSize": 16, "baseline": "middle", "color": "#111"},
    "encoding": {"x": {"datum": -132, "type": "quantitative"}, "y": {"datum": 14.85, "type": "quantitative"}}},
   {"data": {"values": [{}]}, "mark": {"type": "text", "text": "B", "fontSize": 16, "baseline": "middle", "color": "#111"},
    "encoding": {"x": {"datum": -17, "type": "quantitative"}, "y": {"datum": 14.85, "type": "quantitative"}}},
   {"data": {"values": [{}]}, "mark": {"type": "text", "text": "C", "fontSize": 16, "baseline": "middle", "color": "#111"},
    "encoding": {"x": {"datum": -132, "type": "quantitative"}, "y": {"datum": -5.46, "type": "quantitative"}}}
  ]
 },
 {
  "data": {"name": "CG"},
  "layer": [
   {"mark": {"type": "line", "strokeWidth": 1, "interpolate": "monotone"},
    "encoding": {
     "x": {"field": "i", "type": "quantitative", "scale": {"type": "symlog", "constant": 10, "domain": [0, 185000], "range": [1, 159], "nice": false, "zero": false},
       "axis": {"orient": "bottom", "values": [0, 100, 1000, 10000, 100000], "labelExpr": "datum.value == 0 ? '0' : datum.value == 100 ? '10²' : datum.value == 1000 ? '10³' : datum.value == 10000 ? '10⁴' : '10⁵'", "title": null, "labelFontSize": 9.5, "domainColor": "#aaa", "tickColor": "#999", "tickSize": 4, "labelPadding": 1, "labelOverlap": false, "labelFlush": false}},
     "y": {"field": "n", "type": "quantitative", "scale": {"domain": [0, 1108], "range": [426, 269], "nice": false, "zero": false},
       "axis": {"orient": "left", "offset": -1, "values": [0, 500, 1000], "format": "d", "title": "Count", "titleFontSize": 13.5, "titleFontWeight": "bold", "titleX": -30, "titleY": 353, "titleBaseline": "middle", "labelFontSize": 9.5, "domainColor": "#aaa", "tickColor": "#999", "tickSize": 4, "labelPadding": 1}},
     "color": {"field": "s", "type": "nominal", "scale": {"domain": ["0 µg/ml ISM","1 µg/ml ISM","2.5 µg/ml ISM","2.5 µg/ml ISM (MSOROM7)"], "range": ["#000000","#1010ff","#6cf03c","#ff1a1a"]},
       "legend": {"title": null, "orient": "none", "legendX": 542, "legendY": 278, "strokeColor": "#999", "padding": 7, "rowPadding": 2.3, "labelFontSize": 12, "labelColor": "#111", "symbolType": "square", "symbolSize": 6, "symbolStrokeWidth": 2, "labelOffset": 11}}}},
   {"data": {"name": "minorX"}, "mark": {"type": "rule", "color": "#999", "strokeWidth": 1},
    "encoding": {"x": {"field": "v", "type": "quantitative"}, "y": {"datum": 0, "type": "quantitative"}, "y2": {"datum": -14}}},
   {"data": {"name": "minorY"}, "mark": {"type": "rule", "color": "#999", "strokeWidth": 1},
    "encoding": {"y": {"field": "c", "type": "quantitative"}, "x": {"datum": 0, "type": "quantitative"}, "x2": {"datum": -1.35}}},
   {"data": {"values": [{}]}, "mark": {"type": "text", "text": "MSOROM7-G", "fontSize": 12, "baseline": "middle", "color": "#111"},
    "encoding": {"x": {"datum": 335}, "y": {"datum": 1129}}}
  ]
 },
 {
  "data": {"name": "CH"},
  "layer": [
   {"mark": {"type": "line", "strokeWidth": 1, "interpolate": "monotone"},
    "encoding": {
     "x": {"field": "i", "type": "quantitative", "scale": {"type": "symlog", "constant": 10, "domain": [0, 185000], "range": [199, 357], "nice": false, "zero": false},
       "axis": {"orient": "bottom", "values": [0, 100, 1000, 10000, 100000], "labelExpr": "datum.value == 0 ? '0' : datum.value == 100 ? '10²' : datum.value == 1000 ? '10³' : datum.value == 10000 ? '10⁴' : '10⁵'", "title": "ISM fluorescence intensity", "titleFontSize": 14, "titleFontWeight": "bold", "titleX": 266, "titleY": 29, "titleBaseline": "middle", "labelFontSize": 9.5, "domainColor": "#aaa", "tickColor": "#999", "tickSize": 4, "labelPadding": 1, "labelOverlap": false, "labelFlush": false}},
     "y": {"field": "n", "type": "quantitative", "scale": {"domain": [0, 1148], "range": [426, 269], "nice": false, "zero": false},
       "axis": {"orient": "left", "offset": -199, "values": [0, 500, 1000], "format": "d", "title": null, "labelFontSize": 9.5, "domainColor": "#aaa", "tickColor": "#999", "tickSize": 4, "labelPadding": 1}},
     "color": {"field": "s", "type": "nominal", "scale": {"domain": ["0 µg/ml ISM","1 µg/ml ISM","2.5 µg/ml ISM","2.5 µg/ml ISM (MSOROM7)"], "range": ["#000000","#1010ff","#6cf03c","#ff1a1a"]}, "legend": null}}},
   {"data": {"name": "minorX"}, "mark": {"type": "rule", "color": "#999", "strokeWidth": 1},
    "encoding": {"x": {"field": "v", "type": "quantitative"}, "y": {"datum": 0, "type": "quantitative"}, "y2": {"datum": -14.6}}},
   {"data": {"name": "minorY"}, "mark": {"type": "rule", "color": "#999", "strokeWidth": 1},
    "encoding": {"y": {"field": "c", "type": "quantitative"}, "x": {"datum": 0, "type": "quantitative"}, "x2": {"datum": -1.35}}},
   {"data": {"values": [{}]}, "mark": {"type": "text", "text": "MSOROM7-H", "fontSize": 12, "baseline": "middle", "color": "#111"},
    "encoding": {"x": {"datum": 433}, "y": {"datum": 1170}}}
  ]
 },
 {
  "data": {"name": "CI"},
  "layer": [
   {"mark": {"type": "line", "strokeWidth": 1, "interpolate": "monotone"},
    "encoding": {
     "x": {"field": "i", "type": "quantitative", "scale": {"type": "symlog", "constant": 10, "domain": [0, 185000], "range": [395, 553], "nice": false, "zero": false},
       "axis": {"orient": "bottom", "values": [0, 100, 1000, 10000, 100000], "labelExpr": "datum.value == 0 ? '0' : datum.value == 100 ? '10²' : datum.value == 1000 ? '10³' : datum.value == 10000 ? '10⁴' : '10⁵'", "title": null, "labelFontSize": 9.5, "domainColor": "#aaa", "tickColor": "#999", "tickSize": 4, "labelPadding": 1, "labelOverlap": false, "labelFlush": false}},
     "y": {"field": "n", "type": "quantitative", "scale": {"domain": [0, 1195], "range": [426, 269], "nice": false, "zero": false},
       "axis": {"orient": "left", "offset": -395, "values": [0, 500, 1000], "format": "d", "title": null, "labelFontSize": 9.5, "domainColor": "#aaa", "tickColor": "#999", "tickSize": 4, "labelPadding": 1}},
     "color": {"field": "s", "type": "nominal", "scale": {"domain": ["0 µg/ml ISM","1 µg/ml ISM","2.5 µg/ml ISM","2.5 µg/ml ISM (MSOROM7)"], "range": ["#000000","#1010ff","#6cf03c","#ff1a1a"]}, "legend": null}}},
   {"data": {"name": "minorX"}, "mark": {"type": "rule", "color": "#999", "strokeWidth": 1},
    "encoding": {"x": {"field": "v", "type": "quantitative"}, "y": {"datum": 0, "type": "quantitative"}, "y2": {"datum": -15.2}}},
   {"data": {"name": "minorY"}, "mark": {"type": "rule", "color": "#999", "strokeWidth": 1},
    "encoding": {"y": {"field": "c", "type": "quantitative"}, "x": {"datum": 0, "type": "quantitative"}, "x2": {"datum": -1.35}}},
   {"data": {"values": [{}]}, "mark": {"type": "text", "text": "MSOROM7-I", "fontSize": 12, "baseline": "middle", "color": "#111"},
    "encoding": {"x": {"datum": 296}, "y": {"datum": 1218}}}
  ]
 }
]
}
